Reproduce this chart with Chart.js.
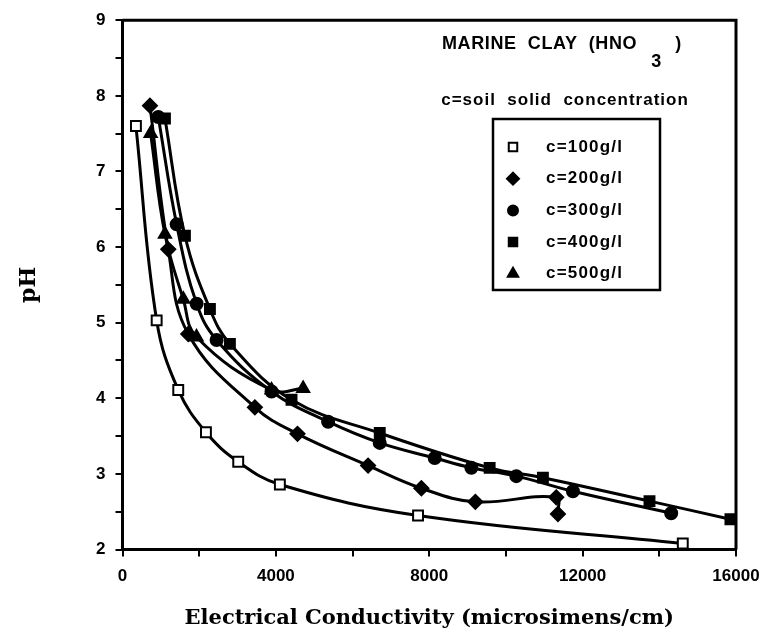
<!DOCTYPE html>
<html>
<head>
<meta charset="utf-8">
<script src="https://cdn.jsdelivr.net/npm/chart.js@4.4.1/dist/chart.umd.min.js"></script>
<style>
  html, body { margin: 0; padding: 0; background: #fff; }
  #wrap { width: 773px; height: 637px; }
</style>
</head>
<body>
<div id="wrap"><canvas id="chart" width="773" height="637"></canvas></div>
<script>
// pH vs electrical conductivity, marine clay with HNO3, per soil solid concentration
const EC_100 = [350, 891, 1454, 2176, 3018, 4104, 7708, 14612];
const PH_100 = [7.6, 5.03, 4.11, 3.55, 3.16, 2.86, 2.45, 2.08];

const EC_200 = [716, 1194, 1715, 3452, 4564, 6405, 7795, 9202, 11313, 11356];
const PH_200 = [7.87, 5.97, 4.85, 3.88, 3.53, 3.11, 2.81, 2.63, 2.69, 2.47];

const EC_300 = [933, 1412, 1933, 2454, 3887, 5362, 6709, 8142, 9098, 10271, 11746, 14309];
const PH_300 = [7.72, 6.3, 5.25, 4.77, 4.09, 3.69, 3.41, 3.21, 3.08, 2.97, 2.77, 2.48];

const EC_400 = [1107, 1628, 2280, 2801, 4408, 6709, 9575, 10964, 13744, 15855];
const PH_400 = [7.7, 6.15, 5.18, 4.72, 3.98, 3.54, 3.08, 2.95, 2.64, 2.4];

const EC_500 = [734, 1107, 1585, 1930, 3887, 4711];
const PH_500 = [7.5, 6.17, 5.31, 4.81, 4.11, 4.13];

const SERIES_LABELS = ['c=100g/l', 'c=200g/l', 'c=300g/l', 'c=400g/l', 'c=500g/l'];
const X_TICKS = [0, 4000, 8000, 12000, 16000];

const pts = (xs, ys) => xs.map((x, i) => ({ x, y: ys[i] }));

function series(label, xs, ys, style, radius, fill) {
  return {
    label,
    data: pts(xs, ys),
    showLine: true,
    borderColor: '#000',
    borderWidth: 3,
    tension: 0.4,
    pointStyle: style,
    pointRadius: radius,
    pointBackgroundColor: fill,
    pointBorderColor: '#000',
    pointBorderWidth: 2,
  };
}

const annotations = {
  id: 'annotations',
  afterDraw(chart) {
    const { ctx, chartArea: a } = chart;
    ctx.save();
    ctx.strokeStyle = '#000';
    ctx.lineWidth = 3;
    ctx.beginPath();
    ctx.moveTo(a.left, a.top);
    ctx.lineTo(a.right, a.top);
    ctx.lineTo(a.right, a.bottom);
    ctx.stroke();

    ctx.fillStyle = '#000';
    ctx.textBaseline = 'middle';
    ctx.textAlign = 'left';
    ctx.font = 'bold 18px "Liberation Sans", Arial, sans-serif';
    ctx.letterSpacing = '0.6px';
    const title = 'MARINE  CLAY  (HNO';
    ctx.fillText(title, 442, 44);
    const tw = ctx.measureText(title).width;
    ctx.fillText('3', 442 + tw + 14, 62);
    ctx.fillText(')', 442 + tw + 38, 44);

    ctx.font = 'bold 17px "Liberation Sans", Arial, sans-serif';
    ctx.letterSpacing = '1px';
    ctx.textAlign = 'center';
    ctx.fillText('c=soil  solid  concentration', 565, 100);

    // legend box
    ctx.lineWidth = 2.5;
    ctx.strokeRect(493, 119, 167, 171);
    ctx.textAlign = 'left';
    ctx.letterSpacing = '1.2px';
    chart.data.datasets.forEach((ds, i) => {
      const y = 147 + i * 31.7;
      ctx.fillStyle = ds.pointBackgroundColor;
      ctx.strokeStyle = '#000';
      ctx.lineWidth = ds.pointBorderWidth;
      Chart.helpers.drawPoint(ctx, {
        pointStyle: ds.pointStyle,
        rotation: 0,
        radius: ds.pointRadius - 1,
        borderWidth: ds.pointBorderWidth,
      }, 513, y);
      ctx.fillStyle = '#000';
      ctx.fillText(SERIES_LABELS[i], 546, y);
    });
    ctx.restore();
  },
};

new Chart(document.getElementById('chart'), {
  type: 'scatter',
  data: {
    datasets: [
      series(SERIES_LABELS[0], EC_100, PH_100, 'rect', 7, '#fff'),
      series(SERIES_LABELS[1], EC_200, PH_200, 'rectRot', 7, '#000'),
      series(SERIES_LABELS[2], EC_300, PH_300, 'circle', 6, '#000'),
      series(SERIES_LABELS[3], EC_400, PH_400, 'rect', 7, '#000'),
      series(SERIES_LABELS[4], EC_500, PH_500, 'triangle', 7, '#000'),
    ],
  },
  plugins: [annotations],
  options: {
    responsive: false,
    animation: false,
    layout: { padding: { left: 0, right: 37, top: 16, bottom: 0 } },
    plugins: { legend: { display: false }, tooltip: { enabled: false } },
    scales: {
      x: {
        type: 'linear',
        min: 0, max: 16000,
        afterFit: s => { s.height = 87.5; },
        border: { color: '#000', width: 3 },
        grid: { drawOnChartArea: false, color: '#000', lineWidth: 2, tickLength: 7 },
        ticks: {
          stepSize: 2000, autoSkip: false, maxRotation: 0, color: '#000', padding: 10,
          font: { family: '"Liberation Sans", Arial, sans-serif', size: 17, weight: 'bold' },
          callback: v => (X_TICKS.includes(v) ? String(v) : ''),
        },
        title: {
          display: true, text: 'Electrical Conductivity (microsimens/cm)', color: '#000',
          font: { family: '"DejaVu Serif", serif', size: 21, weight: 'bold' },
          padding: { top: 0, bottom: 6 },
        },
      },
      y: {
        min: 2, max: 9,
        afterFit: s => { s.width = 122.5; },
        border: { color: '#000', width: 3 },
        grid: { drawOnChartArea: false, color: '#000', lineWidth: 2, tickLength: 7 },
        ticks: {
          stepSize: 0.5, autoSkip: false, color: '#000', padding: 10,
          font: { family: '"Liberation Sans", Arial, sans-serif', size: 17, weight: 'bold' },
          callback: v => (Number.isInteger(v) ? String(v) : ''),
        },
        title: {
          display: true, text: 'pH', color: '#000',
          font: { family: '"DejaVu Serif", serif', size: 22, weight: 'bold' },
          padding: { top: 16, bottom: 0 },
        },
      },
    },
  },
});
</script>
</body>
</html>
